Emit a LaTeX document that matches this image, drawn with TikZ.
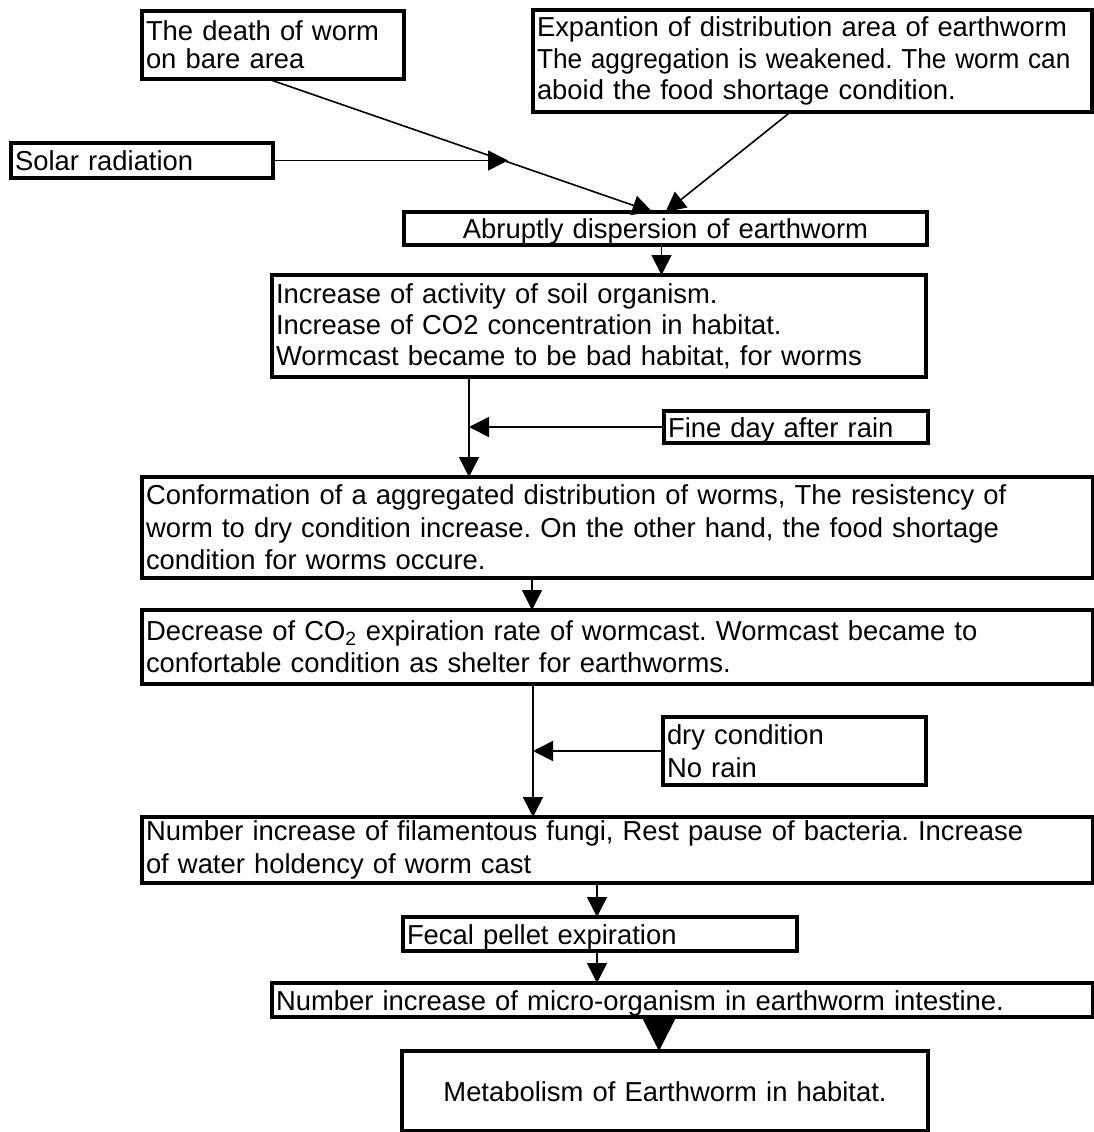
\documentclass[tikz,border=0pt]{standalone}
\usepackage{fontspec}
\usepackage{graphicx}
\setmainfont{Liberation Sans}
\usetikzlibrary{arrows.meta}
\frenchspacing
\begin{document}
\begin{tikzpicture}[x=1pt,y=-1pt,
  box/.style={draw, line width=3.2pt, inner xsep=4pt, inner ysep=0pt, outer sep=0pt,
    anchor=north west, align=left, font=\frenchspacing\fontsize{27.4pt}{#1}\selectfont},
  box/.default=31.5pt,
  one/.style={text height=20pt, text depth=0pt},
  arr/.style={line width=1.6pt, -{Triangle[length=20pt,width=20pt]}},
  bigarr/.style={line width=1.6pt, -{Triangle[length=32pt,width=32pt]}}]
\fill[white] (0,0) rectangle (1094,1132);
\useasboundingbox (0,0) rectangle (1094,1132);

\node[box=28pt, minimum width=262pt, minimum height=68pt, text width=254pt] (A) at (142,11)
  {The death of worm\\on bare area};
\node[box, minimum width=559pt, minimum height=102pt, text width=551pt] (B) at (533,10)
  {\mbox{Expantion of distribution area of earthworm}\\\mbox{\scalebox{0.957}[1]{The aggregation is weakened. The worm can}}\\\mbox{aboid the food shortage condition.}};
\node[box, one, minimum width=262pt, minimum height=35pt, text width=254pt] (solar) at (11,143)
  {Solar radiation};
\node[box, one, align=center, minimum width=523pt, minimum height=33pt, text width=515pt] (abr) at (404,212)
  {Abruptly dispersion of earthworm};
\node[box=31pt, minimum width=654pt, minimum height=102pt, text width=646pt] (C) at (272,275)
  {Increase of activity of soil organism.\\Increase of CO2 concentration in habitat.\\Wormcast became to be bad habitat, for worms};
\node[box, one, minimum width=264pt, minimum height=32pt, text width=256pt] (fine) at (664,411)
  {Fine day after rain};
\node[box=32.5pt, minimum width=951pt, minimum height=101pt, text width=943pt] (D) at (142,477)
  {Conformation of a aggregated distribution of worms, The resistency of\\worm to dry condition increase. On the other hand, the food shortage\\condition for worms occure.};
\node[box=32pt, minimum width=951pt, minimum height=74pt, text width=943pt] (E) at (142,610)
  {Decrease of CO\textsubscript{2} expiration rate of wormcast. Wormcast became to\\confortable condition as shelter for earthworms.};
\node[box=33pt, minimum width=263pt, minimum height=68pt, text width=255pt] (dry) at (663,717)
  {dry condition\\No rain};
\node[box=33pt, minimum width=951pt, minimum height=66pt, text width=943pt] (F) at (142,817)
  {Number increase of filamentous fungi, Rest pause of bacteria. Increase\\of water holdency of worm cast};
\node[box, one, minimum width=394pt, minimum height=34pt, text width=386pt] (G) at (403,917)
  {Fecal pellet expiration};
\node[box, one, minimum width=821pt, minimum height=34pt, text width=813pt] (H) at (272,983)
  {Number increase of micro-organism in earthworm intestine.};
\node[box, one, align=center, line width=4.5pt, minimum width=526pt, minimum height=80pt, text width=518pt] (I) at (402,1051)
  {Metabolism of Earthworm in habitat.};

% connectors
\coordinate (j) at (508,160.5);
\draw[arr] (solar.east) -- (j);
\draw[arr] ([xshift=-5pt]A.south) -- ([xshift=-13pt]abr.north);
\draw[arr] ([xshift=-22pt]B.south) -- (abr.north);

\path ([xshift=-4pt]abr.south) coordinate (a1);
\draw[arr] (a1) -- (a1 |- C.north);

\path ([xshift=-130pt]C.south) coordinate (c1);
\draw[arr] (c1) -- (c1 |- D.north);
\draw[arr] (fine.west) -- (fine.west -| c1);

\path ([xshift=-85.5pt]D.south) coordinate (d1);
\draw[arr] (d1) -- (d1 |- E.north);

\path ([xshift=-84.5pt]E.south) coordinate (e1);
\draw[arr] (e1) -- (e1 |- F.north);
\draw[arr] (dry.west) -- (dry.west -| e1);

\path ([xshift=-3pt]G.north) coordinate (g1);
\draw[arr] (g1 |- F.south) -- (g1);
\path ([xshift=-3pt]G.south) coordinate (g2);
\draw[arr] (g2) -- (g2 |- H.north);

\path ([xshift=-6pt]I.north) coordinate (i1);
\draw[bigarr] (i1 |- H.south) -- (i1);
\end{tikzpicture}
\end{document}
